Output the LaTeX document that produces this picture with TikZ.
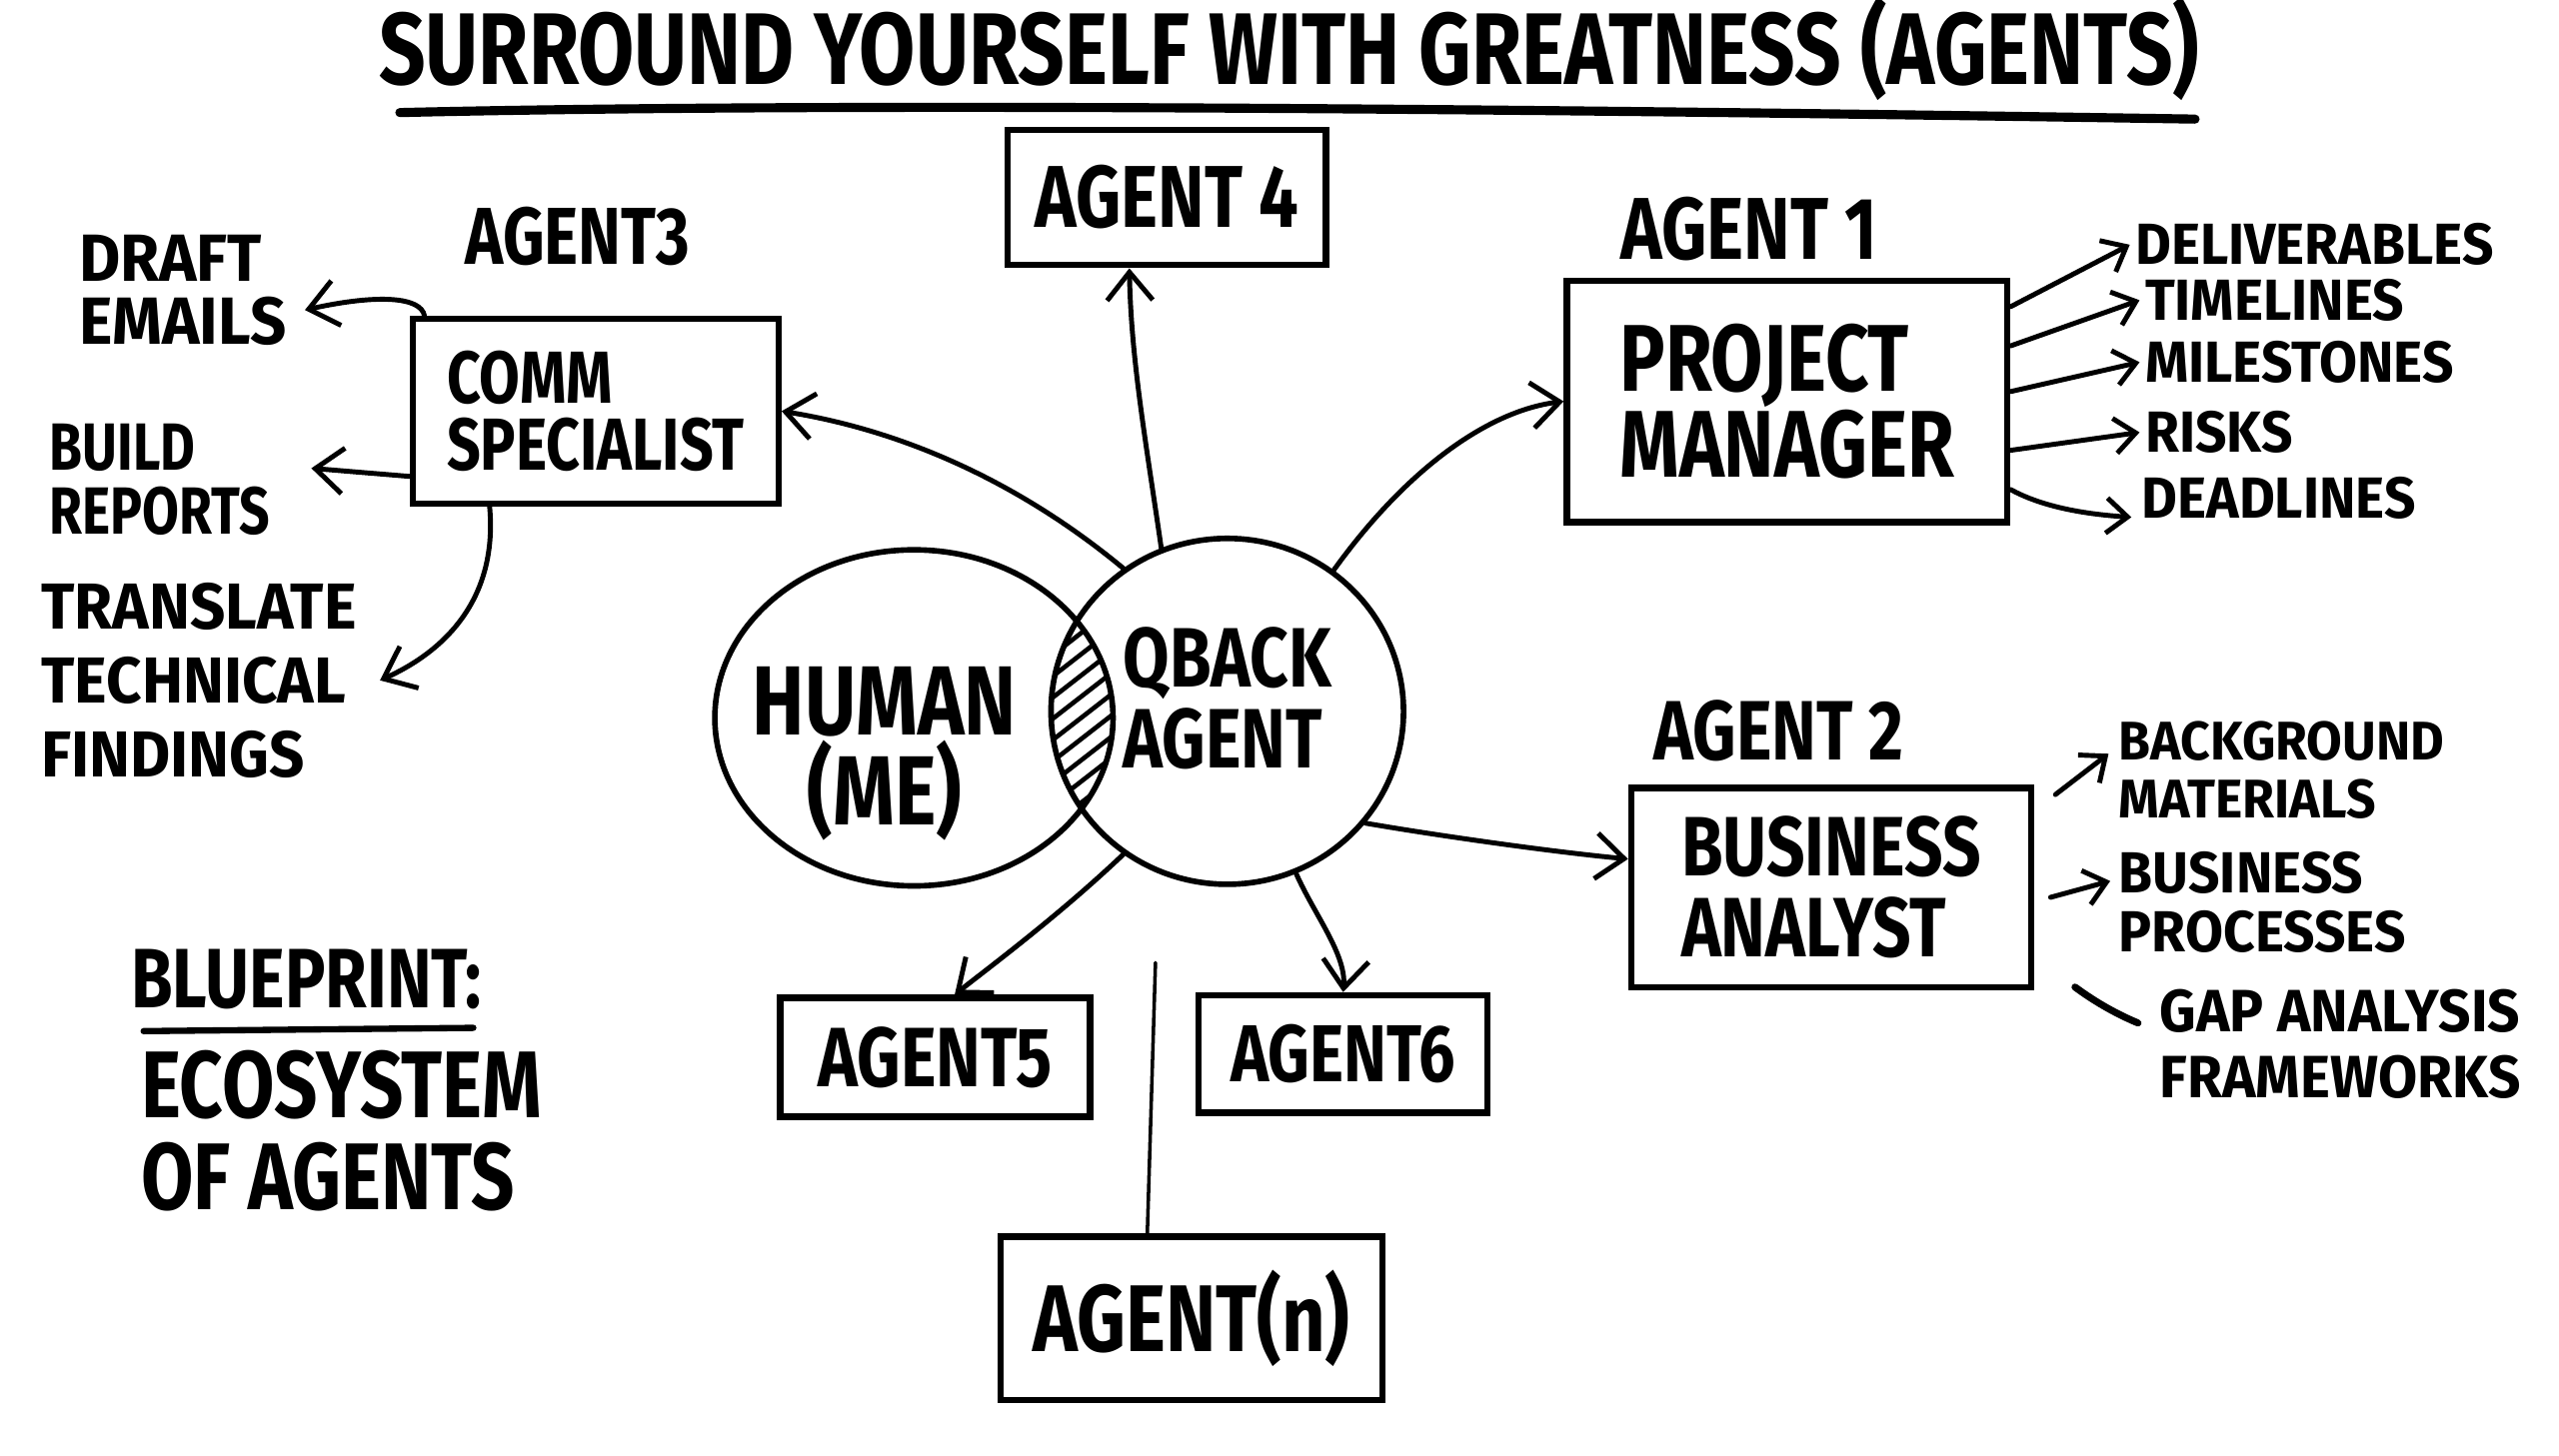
\documentclass[tikz,border=0pt]{standalone}
\usepackage{fontspec}
\setmainfont{Fira Sans}[FakeStretch=0.8]
\newfontfamily\wf{Fira Sans}[FakeStretch=0.95]
\usetikzlibrary{arrows.meta,shapes.geometric}
\def\ux{*0.01633cm}
\newcommand\hf[2]{\bfseries\fontsize{#1}{#2}\selectfont}
\newcommand\hw[2]{\wf\bfseries\fontsize{#1}{#2}\selectfont}
\tikzset{
  box/.style={draw, rectangle, line width=1.8pt, inner sep=0pt, align=left},
  txt/.style={inner sep=0pt, align=left},
  conn/.style={line width=1.4pt, line cap=round, line join=round, -{Straight Barb[length=8pt,width=13pt]}},
  sconn/.style={line width=1.4pt, line cap=round, line join=round, -{Straight Barb[length=6pt,width=10pt]}},
  venn/.style={draw, ellipse, line width=1.6pt, inner sep=0pt},
}
\begin{document}
\begin{tikzpicture}[x=0.01633cm, y=-0.01633cm, line cap=round]
\useasboundingbox[fill=white] (0,0) rectangle (1568,892);

% title
\node[txt, font=\hf{29}{29}] (title) at (790,30) {SURROUND YOURSELF WITH GREATNESS (AGENTS)};
\draw[line width=2.6pt] (245,69) .. controls (500,63) and (900,66) .. (1345,73);

% boxes
\node[box, minimum width=195\ux, minimum height=83\ux, font=\hf{25}{25}] (a4) at (715,121) {AGENT 4};
\node[box, minimum width=224\ux, minimum height=113\ux, font=\hf{21}{19}] (comm) at (365,252) {COMM\\SPECIALIST};
\node[box, minimum width=270\ux, minimum height=148\ux, font=\hf{27}{23}] (pm) at (1095,246) {PROJECT\\MANAGER};
\node[box, minimum width=245\ux, minimum height=122\ux, font=\hf{24}{23}] (ba) at (1122,544) {BUSINESS\\ANALYST};
\node[box, minimum width=190\ux, minimum height=73\ux, font=\hf{24}{24}] (a5) at (573,648) {AGENT5};
\node[box, minimum width=177\ux, minimum height=72\ux, font=\hf{23}{23}] (a6) at (823,646) {AGENT6};
\node[box, minimum width=234\ux, minimum height=100\ux, font=\hf{27}{27}] (an) at (730,808) {AGENT(n)};

% labels
\node[txt, font=\hf{23}{23}] (lab3) at (354,145) {AGENT3};
\node[txt, font=\hf{25}{25}] (lab1) at (1072,140) {AGENT 1};
\node[txt, font=\hf{24}{24}] (lab2) at (1090,448) {AGENT 2};

% venn
\node[venn, minimum width=244\ux, minimum height=206\ux] (human) at (560,440) {};
\node[venn, minimum width=216\ux, minimum height=212\ux] (qb) at (752,436) {};
\begin{scope}
  \clip (560,440) ellipse [x radius=122, y radius=103];
  \clip (752,436) ellipse [x radius=108, y radius=106];
  \foreach \yy in {330,343,...,580} {
    \draw[line width=1.3pt] (620,\yy) -- (710,\yy-70);
  }
\end{scope}
\node[txt, align=center, font=\hf{28}{21}] (humantxt) at (542,462) {HUMAN\\(ME)};
\node[txt, font=\hf{24}{23}] (qbtxt) at (752,428) {QBACK\\AGENT};

% left texts
\node[txt, anchor=west, font=\hw{19}{18}] (draft) at (48,178) {DRAFT\\EMAILS};
\node[txt, anchor=west, font=\hf{19}{18}] (build) at (30,294) {BUILD\\REPORTS};
\node[txt, anchor=west, font=\hw{18.5}{21}] (translate) at (25,417) {TRANSLATE\\TECHNICAL\\FINDINGS};

% PM items
\node[txt, anchor=west, font=\hw{16.5}{17}] (deliv) at (1308,150) {DELIVERABLES};
\node[txt, anchor=west, font=\hw{16.5}{17}] (time) at (1314,184) {TIMELINES};
\node[txt, anchor=west, font=\hw{16.5}{17}] (mile) at (1314,222) {MILESTONES};
\node[txt, anchor=west, font=\hw{16.5}{17}] (risk) at (1314,265) {RISKS};
\node[txt, anchor=west, font=\hw{16.5}{17}] (dead) at (1312,305) {DEADLINES};

% BA items
\node[txt, anchor=west, font=\hw{15.5}{16.5}] (bg) at (1298,472) {BACKGROUND\\MATERIALS};
\node[txt, anchor=west, font=\hw{16.5}{17}] (bp) at (1298,553) {BUSINESS\\PROCESSES};
\node[txt, anchor=west, font=\hw{17}{19}] (gap) at (1323,640) {GAP ANALYSIS\\FRAMEWORKS};

% blueprint
\node[txt, anchor=west, font=\hf{24}{24}] (blue) at (80,600) {BLUEPRINT:};
\draw[line width=1.8pt] (88,632) -- (290,630);
\node[txt, anchor=west, font=\hf{27}{26}] (eco) at (86,693) {ECOSYSTEM\\OF AGENTS};

% connectors from QBACK
\draw[conn] (qb.112) .. controls (702,270) and (693,220) .. ([xshift=-23\ux]a4.south);
\draw[conn] (qb.126) .. controls (630,300) and (560,265) .. (comm.east);
\draw[conn] (qb.53) .. controls (860,290) and (910,252) .. (pm.west);
\draw[conn] (qb.-39) .. controls (880,512) and (950,522) .. (ba.172);
\draw[conn] (qb.-67) .. controls (805,560) and (825,585) .. (a6.north);
\draw[conn] (qb.234) .. controls (650,560) and (610,590) .. ([xshift=12\ux]a5.north);
\coordinate (ntop) at (708,590);
\draw[line width=1pt] ([xshift=-27\ux]an.north) -- (ntop);

% comm arrows
\draw[conn] ([xshift=9\ux]comm.north west) .. controls (258,182) and (232,180) .. ([xshift=11\ux,yshift=-12\ux]draft.east);
\draw[conn] ([yshift=-40\ux]comm.west) -- ([xshift=25\ux,yshift=7\ux]build.east);
\draw[conn] ([xshift=-65\ux]comm.south) .. controls (305,365) and (275,398) .. ([xshift=14\ux]translate.east);

% PM arrows
\draw[sconn] ([yshift=58\ux]pm.east) -- ([xshift=-3\ux]deliv.west);
\draw[sconn] ([yshift=34\ux]pm.east) -- ([xshift=-3\ux]time.west);
\draw[sconn] ([yshift=6\ux]pm.east) -- ([xshift=-3\ux]mile.west);
\draw[sconn] ([yshift=-30\ux]pm.east) -- ([xshift=-3\ux]risk.west);
\draw[sconn] ([yshift=-54\ux]pm.east) .. controls (1250,310) and (1275,315) .. ([xshift=-6\ux,yshift=-12\ux]dead.west);

% BA arrows
\draw[sconn] ([xshift=13\ux,yshift=57\ux]ba.east) -- ([xshift=-6\ux,yshift=10\ux]bg.west);
\draw[sconn] ([xshift=10\ux,yshift=-6\ux]ba.east) -- ([xshift=-5\ux,yshift=13\ux]bp.west);
\draw[line width=2pt] ([xshift=25\ux,yshift=-61\ux]ba.east) .. controls (1285,615) and (1298,622) .. ([xshift=-13\ux,yshift=13\ux]gap.west);
\end{tikzpicture}
\end{document}
